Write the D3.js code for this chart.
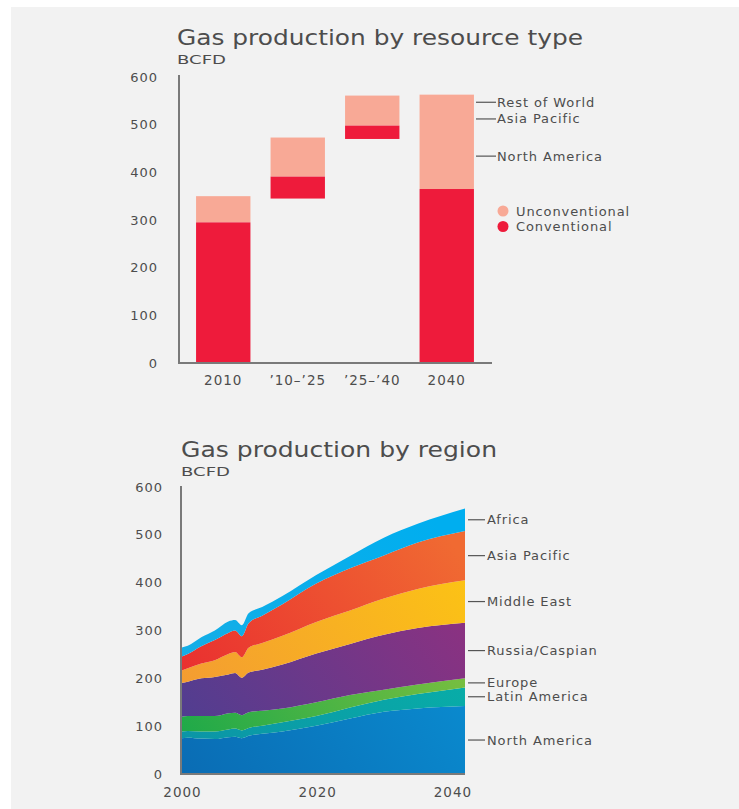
<!DOCTYPE html>
<html>
<head>
<meta charset="utf-8">
<script src="https://cdn.jsdelivr.net/npm/d3@7"></script>
<style>
  html, body { margin: 0; padding: 0; background: #ffffff; }
  svg { display: block; }
  text { font-family: "DejaVu Sans", "Noto Sans", sans-serif; fill: #4d4d4d; }
</style>
</head>
<body>
<svg id="chart" width="739" height="809"></svg>
<script>
// ---- Gas production by resource type (BCFD) ----
const periods = ["2010", "’10–’25", "’25–’40", "2040"];
const barBase = [0, 345, 470, 0];
const conventional = [295, 46, 28, 365];
const unconventional = [55, 82, 63, 198];
const typeTicks = [0, 100, 200, 300, 400, 500, 600];
const typeRegionLabels = ["Rest of World", "Asia Pacific", "North America"];
const typeRegionValues = [547, 512, 434];
const typeLegend = ["Unconventional", "Conventional"];

// ---- Gas production by region (BCFD) ----
const years = [2000, 2001, 2003, 2005, 2007, 2008, 2009, 2010, 2012, 2015, 2020, 2025, 2030, 2035, 2042];
const northAmerica = [75, 76, 74, 73, 77, 78, 75, 80, 84, 89, 101, 116, 130, 137, 142];
const latinAmerica = [14, 14, 15, 16, 16, 17, 16, 16, 17, 19, 20, 23, 25, 30, 39];
const europe       = [30, 31, 32, 32, 34, 33, 32, 33, 31, 29, 29, 26, 21, 20, 19];
const russiaCaspian = [71, 72, 79, 82, 81, 83, 78, 83, 86, 92, 102, 107, 115, 118, 116];
const middleEast   = [26, 28, 31, 35, 43, 44, 43, 52, 56, 60, 66, 70, 76, 82, 89];
const asiaPacific  = [29, 30, 36, 42, 44, 45, 44, 51, 57, 66, 80, 88, 90, 97, 103];
const africa       = [19, 17, 19, 20, 24, 22, 23, 21, 18, 17, 18, 26, 37, 39, 47];
const regionNames = ["North America", "Latin America", "Europe", "Russia/Caspian", "Middle East", "Asia Pacific", "Africa"];
const regionTicks = [0, 100, 200, 300, 400, 500, 600];
const yearTicks = [2000, 2020, 2040];

const svg = d3.select("#chart");
const axisGrey = "#7a7a7a";
const red = "#ee1b3b";
const salmon = "#f8a996";
const labelSize = 13;
const labelSpacing = 0.9;

// panel background
svg.append("rect").attr("x", 11).attr("y", 7).attr("width", 728).attr("height", 802).attr("fill", "#f2f2f2");

// gradient fills for the region layers
const regionColors = [
  ["#0a6cb4", "#0a93d6"],
  ["#0c93a6", "#07b3a8"],
  ["#16a74a", "#8fc43d"],
  ["#4a3f92", "#93307f"],
  ["#f29537", "#fcc414"],
  ["#e8232f", "#f06a32"],
  ["#1aaee4", "#00aeef"]
];
const defs = svg.append("defs");
regionColors.forEach((c, i) => {
  const g = defs.append("linearGradient")
    .attr("id", "rg" + i)
    .attr("gradientUnits", "userSpaceOnUse")
    .attr("x1", 181).attr("y1", 774).attr("x2", 465).attr("y2", 560);
  g.append("stop").attr("offset", "0%").attr("stop-color", c[0]);
  g.append("stop").attr("offset", "100%").attr("stop-color", c[1]);
});

function addTitle(x, y, title, sub, titleW, subW) {
  svg.append("text").attr("x", x).attr("y", y)
    .attr("font-size", 21).attr("fill", "#555")
    .attr("textLength", titleW).attr("lengthAdjust", "spacingAndGlyphs")
    .text(title);
  svg.append("text").attr("x", x).attr("y", y + 19)
    .attr("font-size", 13).attr("fill", "#555")
    .attr("textLength", subW).attr("lengthAdjust", "spacingAndGlyphs")
    .text(sub);
}

// ================= Top: bars =================
addTitle(177, 45, "Gas production by resource type", "BCFD", 406, 49);

const xBand = d3.scaleBand().domain(periods).range([186, 484]).paddingInner(0.27).paddingOuter(0.135);
const yType = d3.scaleLinear().domain([0, 600]).range([363, 77]);

const bars = svg.append("g");
periods.forEach((p, i) => {
  const c0 = barBase[i], c1 = c0 + conventional[i], u1 = c1 + unconventional[i];
  bars.append("rect").attr("x", xBand(p)).attr("width", xBand.bandwidth())
    .attr("y", yType(u1)).attr("height", yType(c1) - yType(u1)).attr("fill", salmon);
  bars.append("rect").attr("x", xBand(p)).attr("width", xBand.bandwidth())
    .attr("y", yType(c1)).attr("height", yType(c0) - yType(c1)).attr("fill", red);
});

// axes
svg.append("line").attr("x1", 179).attr("x2", 179).attr("y1", 75).attr("y2", yType(0))
  .attr("stroke", axisGrey).attr("stroke-width", 2);
svg.append("line").attr("x1", 178).attr("x2", 492).attr("y1", yType(0)).attr("y2", yType(0))
  .attr("stroke", axisGrey).attr("stroke-width", 2);
svg.append("g").selectAll("text").data(typeTicks).join("text")
  .attr("x", 158).attr("y", d => yType(d) + 4.5)
  .attr("text-anchor", "end").attr("font-size", 13).attr("letter-spacing", 1)
  .text(d => d);
svg.append("g").selectAll("text").data(periods).join("text")
  .attr("x", d => xBand(d) + xBand.bandwidth() / 2).attr("y", 385)
  .attr("text-anchor", "middle").attr("font-size", 13.5).attr("letter-spacing", 1)
  .text(d => d);

// region call-outs beside the 2040 bar
const typeLbl = svg.append("g");
typeRegionLabels.forEach((t, i) => {
  const yy = yType(typeRegionValues[i]);
  typeLbl.append("line").attr("x1", 476).attr("x2", 496).attr("y1", yy).attr("y2", yy)
    .attr("stroke", "#555").attr("stroke-width", 1.2);
  typeLbl.append("text").attr("x", 497).attr("y", yy + 4.5).attr("font-size", labelSize)
    .attr("letter-spacing", labelSpacing).text(t);
});

// legend
const legendColors = [salmon, red];
typeLegend.forEach((t, i) => {
  const yy = 211 + i * 15.5;
  svg.append("circle").attr("cx", 503).attr("cy", yy).attr("r", 5.5).attr("fill", legendColors[i]);
  svg.append("text").attr("x", 516).attr("y", yy + 4.5).attr("font-size", labelSize)
    .attr("letter-spacing", labelSpacing).attr("fill", legendColors[i]).text(t);
});

// ================= Bottom: stacked areas =================
addTitle(181, 457, "Gas production by region", "BCFD", 316, 49);

const xYear = d3.scaleLinear().domain([2000, 2042]).range([181, 465]);
const yReg = d3.scaleLinear().domain([0, 600]).range([774, 487]);

const seriesArrays = [northAmerica, latinAmerica, europe, russiaCaspian, middleEast, asiaPacific, africa];
const rows = years.map((yr, i) => {
  const r = { year: yr };
  regionNames.forEach((n, k) => { r[n] = seriesArrays[k][i]; });
  return r;
});
const stacked = d3.stack().keys(regionNames)(rows);

const area = d3.area()
  .x(d => xYear(d.data.year))
  .y0(d => yReg(d[0]))
  .y1(d => yReg(d[1]))
  .curve(d3.curveMonotoneX);

svg.append("g").selectAll("path").data(stacked).join("path")
  .attr("d", area)
  .attr("fill", (d, i) => `url(#rg${i})`);

svg.append("line").attr("x1", 181).attr("x2", 181).attr("y1", 486).attr("y2", yReg(0))
  .attr("stroke", axisGrey).attr("stroke-width", 2);
svg.append("line").attr("x1", 180).attr("x2", 465).attr("y1", yReg(0)).attr("y2", yReg(0))
  .attr("stroke", axisGrey).attr("stroke-width", 2);
svg.append("g").selectAll("text").data(regionTicks).join("text")
  .attr("x", 163).attr("y", d => yReg(d) + 4.5)
  .attr("text-anchor", "end").attr("font-size", 13).attr("letter-spacing", 1)
  .text(d => d);
svg.append("g").selectAll("text").data(yearTicks).join("text")
  .attr("x", d => xYear(d) + 1.5).attr("y", 797)
  .attr("text-anchor", "middle").attr("font-size", 13.5).attr("letter-spacing", 1)
  .text(d => d);

// labels at the middle of each layer's last point
const regLbl = svg.append("g");
stacked.forEach((s, i) => {
  const last = s[s.length - 1];
  const yy = yReg((last[0] + last[1]) / 2);
  regLbl.append("line").attr("x1", 468).attr("x2", 485).attr("y1", yy).attr("y2", yy)
    .attr("stroke", "#555").attr("stroke-width", 1.2);
  regLbl.append("text").attr("x", 487).attr("y", yy + 4.5).attr("font-size", labelSize)
    .attr("letter-spacing", labelSpacing).text(regionNames[i]);
});
</script>
</body>
</html>
